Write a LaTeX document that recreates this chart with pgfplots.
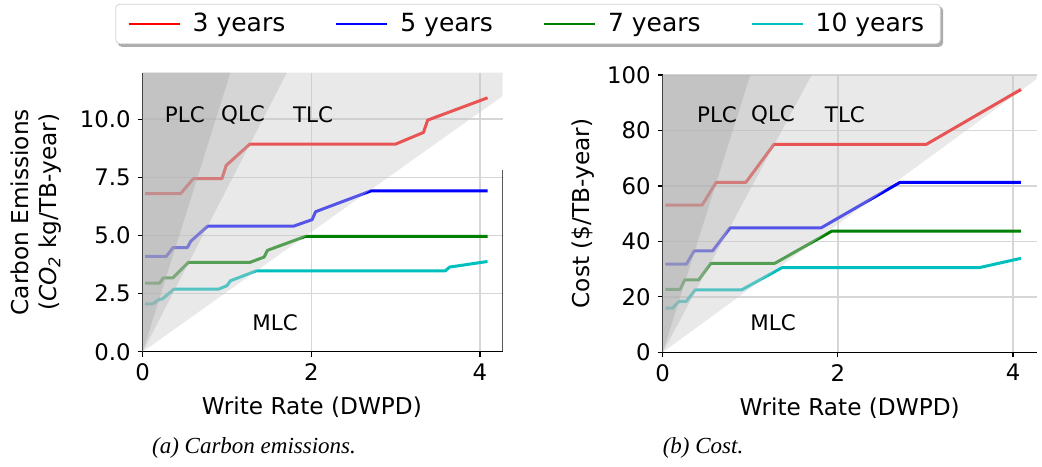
\documentclass[border=0pt]{standalone}
\usepackage{pgfplots}
\pgfplotsset{compat=1.18}
\usepackage{fontspec}
\setmainfont{DejaVu Sans}
\newfontfamily\capfont{Liberation Serif}
\usetikzlibrary{backgrounds}

\definecolor{cR}{RGB}{255,0,0}
\definecolor{cB}{RGB}{0,0,255}
\definecolor{cG}{RGB}{0,128,0}
\definecolor{cC}{RGB}{0,191,191}
\definecolor{shA}{RGB}{202,202,202}
\definecolor{shB}{RGB}{183,183,183}
\definecolor{shC}{RGB}{170,170,170}

\pgfplotsset{
  base/.style={
    scale only axis,
    xmin=0, xmax=4.27,
    axis x line*=bottom, axis y line*=left,
    axis line style={line width=0.6pt},
    tick align=outside,
    major tick length=2.5pt,
    every tick/.style={black, line width=0.6pt},
    grid=major,
    grid style={gray!32, line width=0.7pt},
    xtick={0,2,4},
    ticklabel style={font=\fontsize{11.4}{13}\selectfont},
    label style={font=\fontsize{11.6}{14}\selectfont},
    /pgf/number format/assume math mode=true,
  },
  ser/.style={line width=1.5pt, line join=round},
}

\begin{document}
\begin{tikzpicture}
\path[use as bounding box] (-71.35pt,-57.15pt) rectangle (449.65pt,175.85pt);

% (a) carbon emissions
\begin{axis}[base,
  at={(0pt,0pt)}, anchor=south west,
  width=180pt, height=139.5pt,
  ymin=0, ymax=12,
  ytick={0,2.5,5,7.5,10},
  yticklabel style={/pgf/number format/.cd, fixed, fixed zerofill, precision=1},
  xlabel={Write Rate (DWPD)},
  xlabel style={at={(axis description cs:0.47,-0.20)}, anchor=center},
  ylabel={Carbon Emissions\\(\textit{CO}\textsubscript{\textit{2}} kg/TB-year)},
  ylabel style={align=center, at={(axis description cs:-0.296,0.5)}, anchor=center},
  legend columns=4,
  legend image code/.code={\draw[#1, line width=1pt] (0pt,0pt) -- (25.5pt,0pt);},
  legend style={name=leg, at={(axis description cs:1.0703,1.1746)}, anchor=center,
    font=\fontsize{12.5}{15}\selectfont, draw=gray!35, rounded corners=2pt,
    inner xsep=6pt, inner ysep=2.5pt,
    /tikz/every odd column/.append style={column sep=4pt},
    /tikz/every even column/.append style={column sep=23pt}},
]
\addplot[ser, cR] coordinates {(0.03,6.80) (0.45,6.80) (0.60,7.44) (0.94,7.44) (0.99,8.01) (1.27,8.93) (3.00,8.93) (3.33,9.43) (3.38,9.96) (4.09,10.92)};
\addlegendentry{3 years}
\addplot[ser, cB] coordinates {(0.03,4.10) (0.28,4.10) (0.36,4.48) (0.53,4.48) (0.57,4.75) (0.77,5.40) (1.79,5.40) (2.01,5.68) (2.05,6.02) (2.71,6.92) (4.09,6.92)};
\addlegendentry{5 years}
\addplot[ser, cG] coordinates {(0.03,2.95) (0.20,2.95) (0.245,3.18) (0.36,3.18) (0.54,3.84) (1.27,3.84) (1.44,4.07) (1.48,4.36) (1.93,4.96) (4.09,4.96)};
\addlegendentry{7 years}
\addplot[ser, cC] coordinates {(0.03,2.06) (0.12,2.06) (0.20,2.26) (0.23,2.26) (0.37,2.69) (0.90,2.69) (1.00,2.84) (1.04,3.05) (1.35,3.48) (3.59,3.48) (3.64,3.64) (4.09,3.88)};
\addlegendentry{10 years}
% cell-type regions
\addplot[draw=none, fill=shA, fill opacity=0.42, forget plot] coordinates {(0,0) (4.27,11.0) (4.27,12) (0,12)} -- cycle;
\addplot[draw=none, fill=shB, fill opacity=0.4, forget plot] coordinates {(0,0) (1.71,12) (0,12)} -- cycle;
\addplot[draw=none, fill=shC, fill opacity=0.4, forget plot] coordinates {(0,0) (1.04,12) (0,12)} -- cycle;
\draw[black, line width=0.6pt] (rel axis cs:1,0) -- (rel axis cs:1,0.65);
\node[font=\fontsize{10.7}{12}\selectfont] at (axis cs:0.50,10.2) {PLC};
\node[font=\fontsize{10.7}{12}\selectfont] at (axis cs:1.19,10.2) {QLC};
\node[font=\fontsize{10.7}{12}\selectfont] at (axis cs:2.02,10.2) {TLC};
\node[font=\fontsize{10.7}{12}\selectfont] at (axis cs:1.57,1.24) {MLC};
\end{axis}

% (b) cost
\begin{axis}[base,
  at={(260pt,-0.3pt)}, anchor=south west,
  width=187pt, height=138.65pt,
  ymin=0, ymax=100,
  ytick={0,20,40,60,80,100},
  xlabel={Write Rate (DWPD)},
  xlabel style={at={(axis description cs:0.50,-0.20)}, anchor=center},
  ylabel={Cost (\$/TB-year)},
  ylabel style={at={(axis description cs:-0.213,0.5)}, anchor=center},
]
\addplot[ser, cR] coordinates {(0.03,53.1) (0.45,53.1) (0.61,61.3) (0.95,61.3) (1.27,75.0) (3.01,75.0) (4.09,94.8)};
\addplot[ser, cB] coordinates {(0.03,31.8) (0.27,31.8) (0.36,36.6) (0.57,36.6) (0.77,44.9) (1.81,44.9) (2.71,61.3) (4.09,61.3)};
\addplot[ser, cG] coordinates {(0.03,22.7) (0.20,22.7) (0.25,26.1) (0.41,26.1) (0.55,32.1) (1.28,32.1) (1.93,43.7) (4.09,43.7)};
\addplot[ser, cC] coordinates {(0.03,15.9) (0.11,15.9) (0.19,18.4) (0.27,18.4) (0.37,22.5) (0.90,22.5) (1.36,30.5) (3.61,30.5) (4.09,33.9)};
\addplot[draw=none, fill=shA, fill opacity=0.42] coordinates {(0,0) (4.27,98.6) (4.27,100) (0,100)} -- cycle;
\addplot[draw=none, fill=shB, fill opacity=0.4] coordinates {(0,0) (1.70,100) (0,100)} -- cycle;
\addplot[draw=none, fill=shC, fill opacity=0.4] coordinates {(0,0) (1.00,100) (0,100)} -- cycle;
\node[font=\fontsize{10.7}{12}\selectfont] at (axis cs:0.62,85.6) {PLC};
\node[font=\fontsize{10.7}{12}\selectfont] at (axis cs:1.26,85.6) {QLC};
\node[font=\fontsize{10.7}{12}\selectfont] at (axis cs:2.08,85.6) {TLC};
\node[font=\fontsize{10.7}{12}\selectfont] at (axis cs:1.26,10.5) {MLC};
\end{axis}

% legend shadow
\begin{scope}[on background layer]
\fill[gray!65, rounded corners=2pt] ([shift={(1.2pt,-1.3pt)}]leg.south west) rectangle ([shift={(1.2pt,-1.3pt)}]leg.north east);
\end{scope}

\node[font=\capfont\itshape\fontsize{11.5}{13}\selectfont] at (55.65pt,-48.15pt) {(a) Carbon emissions.};
\node[font=\capfont\itshape\fontsize{11.5}{13}\selectfont] at (280.15pt,-48.15pt) {(b) Cost.};
\end{tikzpicture}
\end{document}
